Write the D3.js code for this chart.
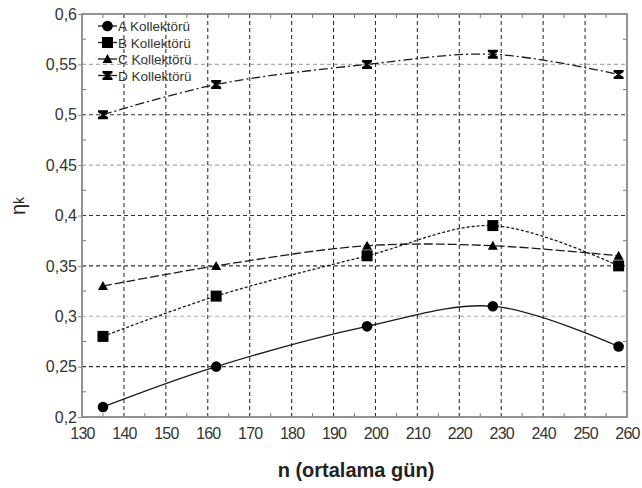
<!DOCTYPE html>
<html>
<head>
<meta charset="utf-8">
<script src="https://cdn.jsdelivr.net/npm/d3@7"></script>
<style>
  body { margin: 0; background: #fff; }
  text { font-family: "Liberation Sans", Arial, sans-serif; }
</style>
</head>
<body>
<svg id="chart" width="642" height="488"></svg>
<script>
// data
const days = [135, 162, 198, 228, 258];
const seriesA = [0.21, 0.25, 0.29, 0.31, 0.27];
const seriesB = [0.28, 0.32, 0.36, 0.39, 0.35];
const seriesC = [0.33, 0.35, 0.37, 0.37, 0.36];
const seriesD = [0.50, 0.53, 0.55, 0.56, 0.54];
const seriesNames = ["A Kollektörü", "B Kollektörü", "C Kollektörü", "D Kollektörü"];
const xTicks = [130, 140, 150, 160, 170, 180, 190, 200, 210, 220, 230, 240, 250, 260];
const yTicks = [0.2, 0.25, 0.3, 0.35, 0.4, 0.45, 0.5, 0.55, 0.6];
const grayRows = [0.3, 0.45, 0.55]; // these gridlines are lighter in the original

const svg = d3.select("#chart");
const plotL = 82, plotR = 627, plotT = 14, plotB = 417;

const x = d3.scaleLinear().domain([130, 260]).range([plotL, plotR]);
const y = d3.scaleLinear().domain([0.2, 0.6]).range([plotB, plotT]);

const ink = "#1a1a1a";
const fmt = v => String(+v.toFixed(2)).replace(".", ",");

// grid
const grid = svg.append("g");
xTicks.slice(1, -1).forEach(t => {
  grid.append("line")
    .attr("x1", x(t)).attr("x2", x(t)).attr("y1", plotT).attr("y2", plotB)
    .attr("stroke", "#333").attr("stroke-width", 1.1).attr("stroke-dasharray", "4,3");
});
yTicks.slice(1, -1).forEach(t => {
  const light = grayRows.some(g => Math.abs(g - t) < 1e-6);
  grid.append("line")
    .attr("x1", plotL).attr("x2", plotR).attr("y1", y(t)).attr("y2", y(t))
    .attr("stroke", light ? "#aaa" : "#333").attr("stroke-width", 1.1)
    .attr("stroke-dasharray", "4,3");
});

// axes with labels
const xAxis = svg.append("g").attr("transform", `translate(0,${plotB})`)
  .call(d3.axisBottom(x).tickValues(xTicks).tickSize(0).tickPadding(11).tickFormat(d => d));
const yAxis = svg.append("g").attr("transform", `translate(${plotL},0)`)
  .call(d3.axisLeft(y).tickValues(yTicks).tickSize(4).tickPadding(1).tickFormat(fmt));
[xAxis, yAxis].forEach(a => {
  a.select(".domain").remove();
  a.selectAll("text").attr("font-size", 16).attr("fill", "#333");
  a.selectAll("line").attr("stroke", "#888");
});
xAxis.selectAll("text").attr("letter-spacing", -0.8);

// minor ticks inside the frame
const minorX = d3.range(135, 260, 10);
const minorY = d3.range(0.225, 0.6, 0.05);
const mt = svg.append("g").attr("stroke", "#777").attr("stroke-width", 1);
minorX.forEach(t => {
  mt.append("line").attr("x1", x(t)).attr("x2", x(t)).attr("y1", plotT).attr("y2", plotT + 4);
  mt.append("line").attr("x1", x(t)).attr("x2", x(t)).attr("y1", plotB).attr("y2", plotB - 4);
});
minorY.forEach(t => {
  mt.append("line").attr("x1", plotL).attr("x2", plotL + 4).attr("y1", y(t)).attr("y2", y(t));
  mt.append("line").attr("x1", plotR).attr("x2", plotR - 4).attr("y1", y(t)).attr("y2", y(t));
});

// frame
svg.append("rect")
  .attr("x", plotL).attr("y", plotT).attr("width", plotR - plotL).attr("height", plotB - plotT)
  .attr("fill", "none").attr("stroke", "#888").attr("stroke-width", 1.8);

// series
const dashes = [null, "3,2", "9,3", "9,3,2,3"];
const allSeries = [seriesA, seriesB, seriesC, seriesD];

function marker(g, kind, cx, cy) {
  if (kind === 0) {
    g.append("circle").attr("cx", cx).attr("cy", cy).attr("r", 5.3).attr("fill", "#000");
  } else if (kind === 1) {
    g.append("rect").attr("x", cx - 5.5).attr("y", cy - 5.5).attr("width", 11).attr("height", 11).attr("fill", "#000");
  } else if (kind === 2) {
    g.append("path").attr("d", `M${cx - 5},${cy + 4}L${cx + 5},${cy + 4}L${cx},${cy - 5}Z`).attr("fill", "#000");
  } else {
    g.append("path")
      .attr("d", `M${cx - 5},${cy - 4.5}H${cx + 5}V${cy - 2.5}L${cx + 1.2},${cy}L${cx + 5},${cy + 2.5}V${cy + 4.5}H${cx - 5}V${cy + 2.5}L${cx - 1.2},${cy}L${cx - 5},${cy - 2.5}Z`)
      .attr("fill", "#000");
  }
}

const line = d3.line().x(d => x(d[0])).y(d => y(d[1])).curve(d3.curveCatmullRom.alpha(0.5));

allSeries.forEach((vals, i) => {
  const pts = days.map((d, j) => [d, vals[j]]);
  svg.append("path").datum(pts)
    .attr("d", line)
    .attr("fill", "none").attr("stroke", ink).attr("stroke-width", 1.3)
    .attr("stroke-dasharray", dashes[i]);
  const g = svg.append("g");
  pts.forEach(p => marker(g, i, x(p[0]), y(p[1])));
});

// legend
const legend = svg.append("g");
seriesNames.forEach((name, i) => {
  const ly = 26 + i * 16.5;
  legend.append("line").attr("x1", 98).attr("x2", 117).attr("y1", ly).attr("y2", ly)
    .attr("stroke", ink).attr("stroke-width", 1.3);
  marker(legend, i, 107.5, ly);
  legend.append("text").attr("x", 118).attr("y", ly + 5)
    .attr("font-size", 13.5).attr("fill", "#333").text(name);
});

// axis titles
svg.append("text").attr("x", 356).attr("y", 477).attr("text-anchor", "middle")
  .attr("font-size", 20).attr("font-weight", "bold").attr("fill", "#222")
  .text("n (ortalama gün)");
const yt = svg.append("text").attr("transform", "translate(25,206) rotate(-90)")
  .attr("text-anchor", "middle").attr("fill", "#222");
yt.append("tspan").attr("font-size", 20).text("η");
yt.append("tspan").attr("font-size", 14).attr("dy", -1).text("k");
</script>
</body>
</html>
